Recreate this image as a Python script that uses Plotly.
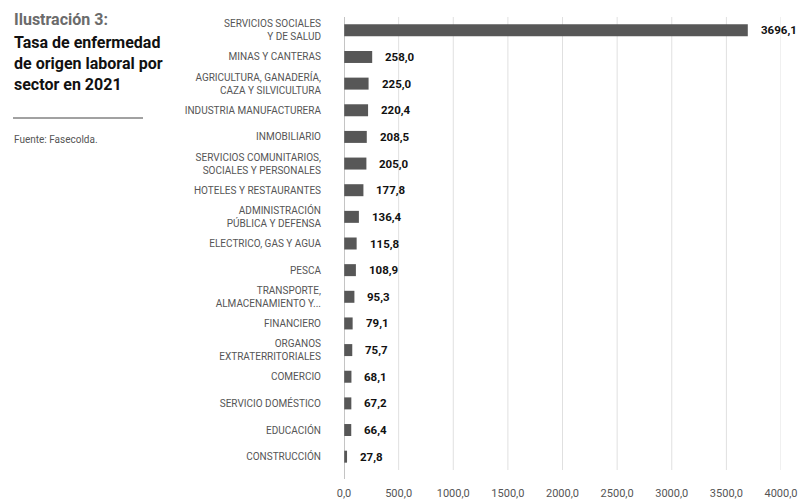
import plotly.graph_objects as go

# Rate of occupational disease by economic sector, 2021 (top to bottom)
sectors = [
    "SERVICIOS SOCIALES<br>Y DE SALUD",
    "MINAS Y CANTERAS",
    "AGRICULTURA, GANADERÍA,<br>CAZA Y SILVICULTURA",
    "INDUSTRIA MANUFACTURERA",
    "INMOBILIARIO",
    "SERVICIOS COMUNITARIOS,<br>SOCIALES Y PERSONALES",
    "HOTELES Y RESTAURANTES",
    "ADMINISTRACIÓN<br>PÚBLICA Y DEFENSA",
    "ELECTRICO, GAS Y AGUA",
    "PESCA",
    "TRANSPORTE,<br>ALMACENAMIENTO Y...",
    "FINANCIERO",
    "ORGANOS<br>EXTRATERRITORIALES",
    "COMERCIO",
    "SERVICIO DOMÉSTICO",
    "EDUCACIÓN",
    "CONSTRUCCIÓN",
]
rates = [3696.1, 258.0, 225.0, 220.4, 208.5, 205.0, 177.8, 136.4, 115.8,
         108.9, 95.3, 79.1, 75.7, 68.1, 67.2, 66.4, 27.8]
tick_values = [0, 500, 1000, 1500, 2000, 2500, 3000, 3500, 4000]
tick_labels = ["0,0", "500,0", "1000,0", "1500,0", "2000,0", "2500,0",
               "3000,0", "3500,0", "4000,0"]

W, H = 799, 504
M_L, M_R, M_T, M_B = 344, 18, 17, 34
plot_w = W - M_L - M_R
plot_h = H - M_T - M_B


def px_x(px):
    return (px - M_L) / plot_w


def px_y(py):
    return 1 - (py - M_T) / plot_h


def es_number(v):
    return f"{v:.1f}".replace(".", ",")


fig = go.Figure(
    go.Bar(
        x=rates,
        y=sectors,
        orientation="h",
        marker=dict(color="#575757", line=dict(width=0)),
        width=0.45,
        hoverinfo="x+y",
    )
)

# light vertical guides at each value tick (skipping the axis itself)
for tv in tick_values[1:]:
    fig.add_shape(
        type="line", xref="x", yref="paper",
        x0=tv, x1=tv, y0=0, y1=1,
        line=dict(color="#e0e0e0", width=1), layer="below",
    )

# category axis line runs a little past the bottom of the grid
fig.add_shape(
    type="line", xref="x", yref="paper",
    x0=0, x1=0, y0=px_y(479), y1=1,
    line=dict(color="#8a8a8a", width=1),
)

# value labels to the right of each bar
for s, v in zip(sectors, rates):
    fig.add_annotation(
        x=v, y=s, xref="x", yref="y",
        text=f"<b>{es_number(v)}</b>",
        showarrow=False, xanchor="left", yanchor="middle", xshift=11,
        font=dict(family="Roboto", size=11.5, color="#111111"),
    )

font_title = "Roboto"
# heading block on the left
fig.add_annotation(
    x=px_x(12), y=px_y(8), xref="paper", yref="paper",
    text="<b>Ilustración 3:</b>", showarrow=False,
    xanchor="left", yanchor="top", align="left",
    font=dict(family=font_title, size=16, color="#6b6b6b"),
)
fig.add_annotation(
    x=px_x(12), y=px_y(31), xref="paper", yref="paper",
    text="<b>Tasa de enfermedad<br>de origen laboral por<br>sector en 2021</b>",
    showarrow=False, xanchor="left", yanchor="top", align="left",
    font=dict(family=font_title, size=16, color="#111111"),
)
fig.add_shape(
    type="line", xref="paper", yref="paper",
    x0=px_x(13), x1=px_x(143), y0=px_y(118), y1=px_y(118),
    line=dict(color="#444444", width=1),
)
fig.add_annotation(
    x=px_x(12), y=px_y(139), xref="paper", yref="paper",
    text="Fuente: Fasecolda.", showarrow=False,
    xanchor="left", yanchor="middle", align="left",
    font=dict(family="Roboto", size=10, color="#555555"),
)

fig.update_layout(
    width=W, height=H,
    margin=dict(l=M_L, r=M_R, t=M_T, b=M_B, pad=0, autoexpand=False),
    paper_bgcolor="white", plot_bgcolor="white",
    showlegend=False,
    bargap=0.55,
    xaxis=dict(
        range=[0, 4000],
        tickvals=tick_values, ticktext=tick_labels,
        showgrid=False, zeroline=False, showline=False,
        ticks="outside", ticklen=13, tickcolor="rgba(0,0,0,0)",
        tickfont=dict(family="Roboto", size=11, color="#555555"),
        automargin=False,
        fixedrange=True,
    ),
    yaxis=dict(
        categoryorder="array", categoryarray=sectors[::-1],
        autorange=False, range=[-0.5, len(sectors) - 0.5],
        showgrid=False, zeroline=False,
        showline=False,
        ticks="outside", ticklen=20, tickcolor="rgba(0,0,0,0)",
        tickfont=dict(family="Roboto", size=10, color="#555555"),
        automargin=False,
        fixedrange=True,
    ),
)

fig.write_html("out.html")
